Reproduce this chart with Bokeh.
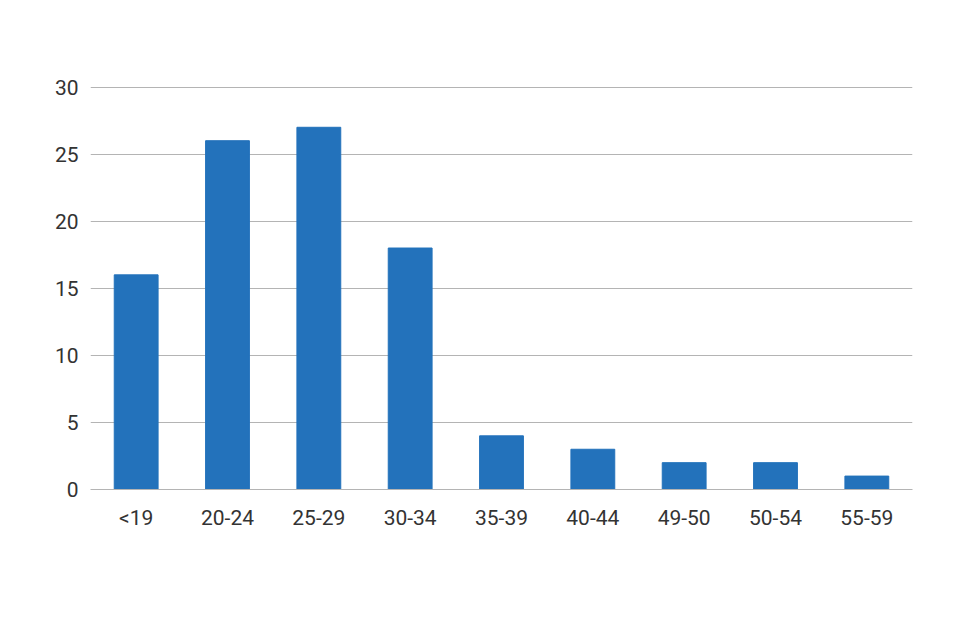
from bokeh.plotting import figure
from bokeh.models import FactorRange, Range1d, FixedTicker
from bokeh.embed import file_html
from bokeh.resources import INLINE

categories = ["<19", "20-24", "25-29", "30-34", "35-39", "40-44", "49-50", "50-54", "55-59"]
counts = [16, 26, 27, 18, 4, 3, 2, 2, 1]
y_ticks = [0, 5, 10, 15, 20, 25, 30]

p = figure(x_range=FactorRange(*categories, range_padding=0), y_range=Range1d(0, 30.04),
           width=944, height=624, output_backend="svg", toolbar_location=None,
           min_border_left=90, min_border_right=32, min_border_top=86, min_border_bottom=135)

p.vbar(x=categories, top=counts, width=0.48, color="#2372BB")

p.outline_line_color = None
p.background_fill_color = "white"
p.border_fill_color = "white"

p.xgrid.grid_line_color = None
p.ygrid.grid_line_color = "#B4B4B4"
p.ygrid.grid_line_width = 1
p.yaxis.ticker = FixedTicker(ticks=y_ticks)

for ax in (p.xaxis, p.yaxis):
    ax.axis_line_color = None
    ax.major_tick_line_color = None
    ax.minor_tick_line_color = None
    ax.major_label_text_font = "Roboto"
    ax.major_label_text_font_size = "21px"
    ax.major_label_text_color = "#333333"

p.xaxis.axis_line_color = "#B4B4B4"
p.xaxis.major_label_standoff = 10
p.yaxis.major_label_standoff = 6

open("out.html", "w").write(file_html(p, INLINE))
